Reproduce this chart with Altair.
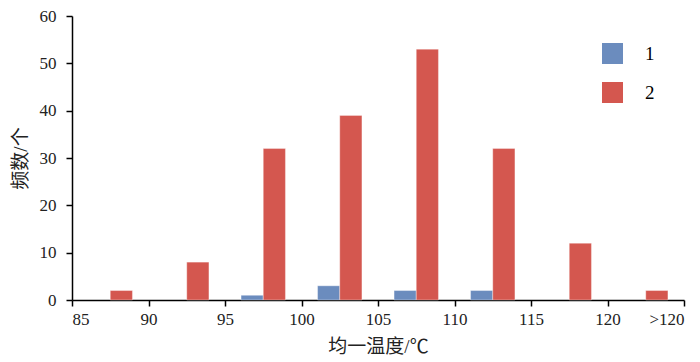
import altair as alt
import pandas as pd

tick_labels = ["85", "90", "95", "100", "105", "110", "115", "120", ">120"]
bins = ["85-90", "90-95", "95-100", "100-105", "105-110", "110-115", "115-120", ">120"]
series1 = [0, 0, 1, 3, 2, 2, 0, 0]
series2 = [2, 8, 32, 39, 53, 32, 12, 2]
series_names = ["1", "2"]
colors = ["#6b8cbe", "#d4574f"]

rows = []
for i, b in enumerate(bins):
    rows.append({"bin": b, "idx": i, "series": "1", "count": series1[i]})
    rows.append({"bin": b, "idx": i, "series": "2", "count": series2[i]})
df = pd.DataFrame(rows)

W = 0.29  # bar width in bin units
FONT = "Liberation Serif"
CJK = "Liberation Serif, Noto Sans CJK SC"

chart = (
    alt.Chart(df)
    .transform_filter("datum.count > 0")
    .transform_calculate(
        x0=f"datum.idx + 0.5 + (datum.series == '2' ? 0 : -{W})",
        x1=f"datum.idx + 0.5 + (datum.series == '2' ? {W} : 0)",
    )
    .mark_bar(stroke="#ffffff", strokeOpacity=0.35, strokeWidth=1)
    .encode(
        x=alt.X(
            "x0:Q",
            scale=alt.Scale(domain=[0, 8], nice=False, zero=False),
            axis=alt.Axis(
                title="均一温度/℃",
                values=list(range(len(tick_labels))),
                labelExpr="['" + "','".join(tick_labels) + "'][datum.value]",
                grid=False,
                tickSize=6,
                labelPadding=5,
                titlePadding=10,
            ),
        ),
        x2="x1:Q",
        y=alt.Y(
            "count:Q",
            scale=alt.Scale(domain=[0, 60], nice=False),
            axis=alt.Axis(
                title="频数/个",
                values=[0, 10, 20, 30, 40, 50, 60],
                grid=False,
                tickSize=6,
                labelPadding=10,
                titlePadding=9,
            ),
        ),
        y2=alt.datum(0),
        color=alt.Color(
            "series:N",
            scale=alt.Scale(domain=series_names, range=colors),
            legend=alt.Legend(
                title=None,
                orient="none",
                legendX=530,
                legendY=27,
                symbolType="square",
                symbolSize=441,
                symbolStrokeWidth=0,
                labelFontSize=19,
                labelOffset=22,
                rowPadding=18,
                padding=0,
            ),
        ),
    )
    .properties(
        width=612,
        height=284,
        autosize=alt.AutoSizeParams(type="none"),
        padding={"left": 64, "top": 8, "right": 8, "bottom": 62},
    )
    .configure(font=FONT)
    .configure_view(stroke=None)
    .configure_legend(labelFont=FONT)
    .configure_axis(
        domainColor="#000000",
        domainWidth=1.5,
        tickColor="#000000",
        tickWidth=1.5,
        labelFont=FONT,
        labelFontSize=17,
        labelColor="#222222",
        titleFont=CJK,
        titleFontSize=19,
        titleFontWeight="normal",
        titleColor="#222222",
    )
)

chart.save("out.html", embed_options={"renderer": "svg", "actions": False})
